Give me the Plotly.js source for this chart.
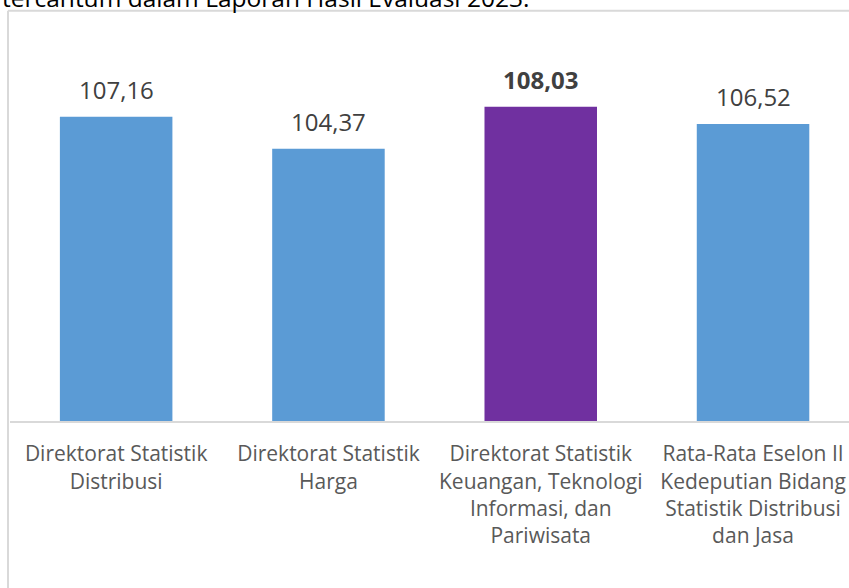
<!DOCTYPE html>
<html>
<head>
<meta charset="utf-8">
<script src="https://cdn.plot.ly/plotly-3.0.1.min.js"></script>
<style>
  html, body { margin: 0; padding: 0; background: #fff; }
  #chart { width: 849px; height: 588px; }
</style>
</head>
<body>
<div id="chart"></div>
<script>
const categories = [
  'Direktorat Statistik<br>Distribusi',
  'Direktorat Statistik<br>Harga',
  'Direktorat Statistik<br>Keuangan, Teknologi<br>Informasi, dan<br>Pariwisata',
  'Rata-Rata Eselon II<br>Kedeputian Bidang<br>Statistik Distribusi<br>dan Jasa'
];
const values = [107.16, 104.37, 108.03, 106.52];
const highlighted = [false, false, true, false];
const captionText = 'tercantum dalam Laporan Hasil Evaluasi 2023.';

const FONT = 'Open Sans, sans-serif';
const xIdx = categories.map((c, i) => i);

const barColors = highlighted.map(h => h ? '#7030a0' : '#5b9bd5');

// value labels above bars
const valueLabels = values.map((v, i) => {
  const txt = v.toFixed(2).replace('.', ',');
  return {
    x: i, y: v, xref: 'x', yref: 'y',
    text: highlighted[i] ? '<b>' + txt + '</b>' : txt,
    showarrow: false,
    yanchor: 'bottom',
    yshift: 9,
    font: {family: FONT, size: 24, color: '#404040'}
  };
});

const trace = {
  type: 'bar',
  x: xIdx,
  y: values,
  marker: {color: barColors},
  hoverinfo: 'none'
};

const layout = {
  width: 849,
  height: 588,
  margin: {l: 10, r: 0, t: 30, b: 167},
  paper_bgcolor: '#fff',
  plot_bgcolor: '#fff',
  bargap: 0.47,
  showlegend: false,
  xaxis: {
    range: [-0.5, 3.452],
    tickmode: 'array',
    tickvals: xIdx,
    ticktext: categories,
    showline: true,
    linecolor: '#d9d9d9',
    linewidth: 2,
    showgrid: false,
    zeroline: false,
    ticks: '',
    ticklabelstandoff: 13,
    tickfont: {family: FONT, size: 21, color: '#595959'}
  },
  yaxis: {
    range: [80.7, 114.7],
    visible: false,
    showgrid: false,
    zeroline: false
  },
  shapes: [
    // chart frame (left and top borders)
    {type: 'line', xref: 'paper', yref: 'paper', x0: -0.0024, x1: -0.0024, y0: -0.5, y1: 1.049,
     line: {color: '#d9d9d9', width: 2}},
    {type: 'line', xref: 'paper', yref: 'paper', x0: -0.0024, x1: 1.1, y0: 1.049, y1: 1.049,
     line: {color: '#d9d9d9', width: 2}}
  ],
  annotations: valueLabels.concat([{
    xref: 'paper', yref: 'paper',
    x: -0.012, y: 1.0358, xanchor: 'left', yanchor: 'bottom',
    text: captionText,
    showarrow: false,
    font: {family: FONT, size: 24.5, color: '#000'}
  }])
};

Plotly.newPlot('chart', [trace], layout, {staticPlot: true});
</script>
</body>
</html>
